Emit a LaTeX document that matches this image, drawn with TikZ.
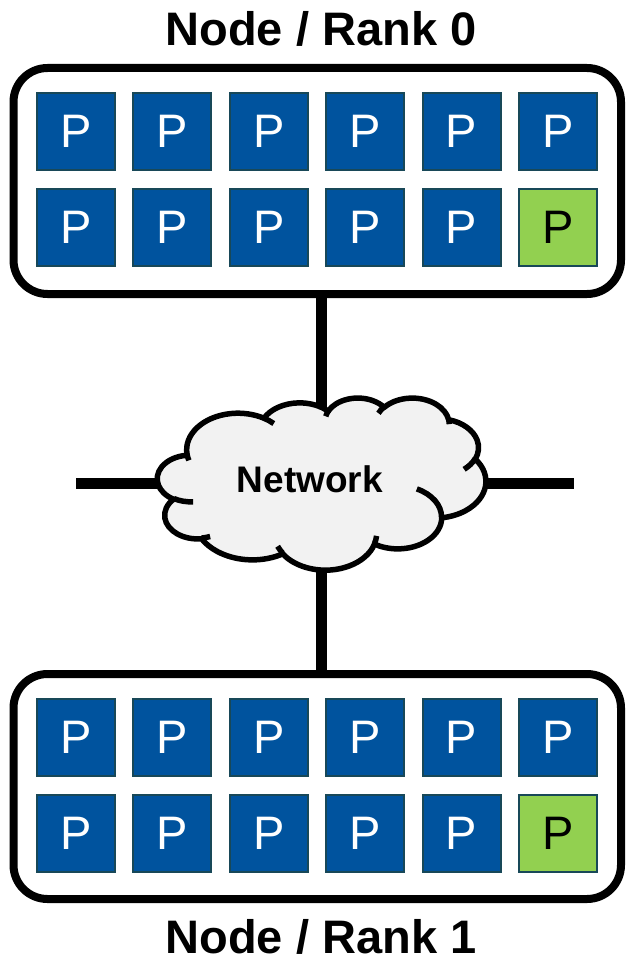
\documentclass[tikz,border=0pt]{standalone}
\usepackage{fontspec}
\setmainfont{Liberation Sans}
\definecolor{pblue}{RGB}{0,83,158}
\definecolor{pborder}{RGB}{24,72,88}
\definecolor{pgreenc}{RGB}{146,208,80}
\definecolor{cloudgray}{RGB}{242,242,242}

\newcommand\cloudpath{}
\newcommand\cloudhooks{}
\newcommand\addcloudarc[5]{%
  \pgfmathsetmacro\caS{atan2(#2*sin(#4),#3*cos(#4))}%
  \pgfmathsetmacro\caE{atan2(#2*sin(#4+#5),#3*cos(#4+#5))}%
  \pgfmathsetmacro\caD{Mod(\caE-\caS,360)}%
  \xdef#1{#1 arc[x radius=#2, y radius=#3, start angle=\caS, delta angle=\caD]}}
\newcommand\addhookstart[2]{\xdef\cloudhooks{\cloudhooks (#1,#2)}}

\tikzset{
  pbox/.style={draw=pborder, line width=2pt, fill=pblue, minimum width=78pt,
    minimum height=77pt, inner sep=0pt, text=white,
    font=\fontsize{47}{47}\selectfont},
  pgreen/.style={pbox, fill=pgreenc, text=black},
  rankbox/.style={draw=black, line width=8pt, rounded corners=34pt,
    minimum width=607.5pt, minimum height=226pt, inner sep=0pt},
  wire/.style={draw=black, line width=11.5pt},
  ranktitle/.style={font=\bfseries\fontsize{47}{47}\selectfont, anchor=base,
    inner sep=0pt, outer sep=0pt},
  cloudstyle/.style={draw=black, line width=5.5pt, line join=round},
}

\begin{document}
\begin{tikzpicture}[x=1pt,y=-1pt]
\useasboundingbox (0,0) rectangle (627,958);

% cloud outline (PowerPoint cloud geometry)
\addcloudarc\cloudpath{6753}{9190}{-190.4875}{123.7805}
\addcloudarc\cloudpath{5333}{7267}{-144.1024}{89.9452}
\addcloudarc\cloudpath{4365}{5945}{-145.8079}{99.7230}
\addcloudarc\cloudpath{4857}{6595}{-130.9861}{117.2417}
\addcloudarc\cloudpath{5333}{7273}{-78.7089}{109.0269}
\addcloudarc\cloudpath{6775}{9220}{-46.2673}{130.2690}
\addcloudarc\cloudpath{5785}{7867}{0.6250}{114.0333}
\addcloudarc\cloudpath{6752}{9215}{22.4516}{115.1726}
\addcloudarc\cloudpath{7720}{10543}{66.2426}{75.7110}
\addcloudarc\cloudpath{4360}{5918}{-274.9421}{146.7356}
\addcloudarc\cloudpath{4345}{5945}{-246.8285}{152.5189}
% inner hooks
\addhookstart{4693}{26177}\addcloudarc\cloudhooks{4345}{5945}{86.7420}{26.4295}
\addhookstart{6928}{34899}\addcloudarc\cloudhooks{4360}{5918}{73.6105}{11.4475}
\addhookstart{16478}{39090}\addcloudarc\cloudhooks{6752}{9215}{137.6242}{14.0811}
\addhookstart{28827}{34751}\addcloudarc\cloudhooks{6752}{9215}{6.4533}{15.9984}
\addhookstart{34129}{22954}\addcloudarc\cloudhooks{5785}{7867}{-70.2924}{70.9174}
\addhookstart{41798}{15354}\addcloudarc\cloudhooks{5333}{7273}{30.3180}{27.7515}
\addhookstart{38324}{5426}\addcloudarc\cloudhooks{4857}{6595}{-13.7443}{14.8589}
\addhookstart{29078}{3952}\addcloudarc\cloudhooks{4857}{6595}{-149.1815}{18.1954}
\addhookstart{22141}{4720}\addcloudarc\cloudhooks{4365}{5945}{-163.4943}{17.6864}
\addhookstart{14000}{5192}\addcloudarc\cloudhooks{6753}{9190}{-66.7070}{12.3194}
\addhookstart{4127}{15789}\addcloudarc\cloudhooks{6753}{9190}{157.6544}{11.8582}

% titles
\node[ranktitle] (t0) at (321,46) {Node / Rank 0};
\node[ranktitle] (t1) at (321,953) {Node / Rank 1};

% rank boxes
\node[rankbox] (rank0) at (317.25,181) {};
\node[rankbox, minimum height=225pt] (rank1) at (317.25,786.5) {};

% processes
\foreach \i/\s in {0/pbox,1/pbox,2/pbox,3/pbox,4/pbox,5/pgreen}{
  \node[pbox] (r0a\i) at ({76+96.4*\i},131) {P};
  \node[\s] (r0b\i) at ({76+96.4*\i},227) {P};
  \node[pbox] (r1a\i) at ({76+96.4*\i},737.5) {P};
  \node[\s] (r1b\i) at ({76+96.4*\i},833.5) {P};
}

% wires
\coordinate (hub) at (321.5,483.5);
\coordinate (wl) at (76,483.5);
\coordinate (wr) at (574,483.5);
\draw[wire] (rank0.south -| hub) -- (rank1.north -| hub);
\draw[wire] (wl) -- (wr);

% cloud
\coordinate (cloudorigin) at (157.5,397.5);
\begin{scope}[shift={(cloudorigin)}, x=0.0075926pt, y=-0.0039815pt]
  \edef\cloudcmd{\noexpand\draw[cloudstyle, fill=cloudgray] (3900,14370) \cloudpath -- cycle;}\cloudcmd
  \edef\cloudcmd{\noexpand\draw[cloudstyle] \cloudhooks;}\cloudcmd
\end{scope}
\node[font=\bfseries\fontsize{37}{37}\selectfont] (net) at (309.9,479) {Network};
\end{tikzpicture}
\end{document}
